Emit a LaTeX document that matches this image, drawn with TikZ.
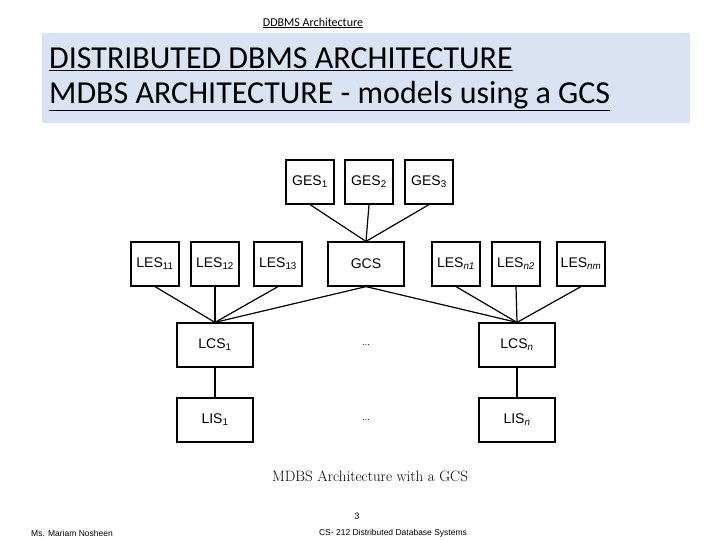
\documentclass[tikz,border=0pt]{standalone}
\usepackage{fontspec}
\setmainfont{Carlito}
\newfontfamily\boxfont{Liberation Sans}
\newfontfamily\capfont{Latin Modern Roman}
\newcommand{\sbs}[1]{\textsubscript{#1}}
\begin{document}
\begin{tikzpicture}[x=1pt,y=-1pt,
  sbox/.style={draw,line width=1.2pt,minimum width=48pt,minimum height=44pt,
    font=\boxfont\fontsize{14}{16}\selectfont,inner sep=0pt},
  wbox/.style={sbox,minimum width=76pt},
  link/.style={line width=1.2pt}]
\useasboundingbox (0,0) rectangle (720,540);
\node[font=\fontsize{12}{14}\selectfont] (hdr) at (313,23) {\underline{DDBMS Architecture}};
\fill[fill={rgb,255:red,218;green,227;blue,243}] (42,33) rectangle (690,123);
\node[anchor=west,font=\fontsize{32}{35}\selectfont,align=left,inner sep=0pt] (ttl) at (49,79)
  {\underline{DISTRIBUTED DBMS ARCHITECTURE}\\\underline{MDBS ARCHITECTURE - models using a GCS}};
% global level
\node[sbox] (ges1) at (310,182) {GES\sbs{1}};
\node[sbox] (ges2) at (369,182) {GES\sbs{2}};
\node[sbox] (ges3) at (429,182) {GES\sbs{3}};
% local external schemas and GCS
\node[sbox] (les11) at (155,264) {LES\sbs{11}};
\node[sbox] (les12) at (215,264) {LES\sbs{12}};
\node[sbox] (les13) at (278,264) {LES\sbs{13}};
\node[wbox] (gcs) at (366,264) {GCS};
\node[sbox] (lesn1) at (456,264) {LES\sbs{\itshape n1}};
\node[sbox] (lesn2) at (516,264) {LES\sbs{\itshape n2}};
\node[sbox] (lesnm) at (581,264) {LES\sbs{\itshape nm}};
% local conceptual and internal
\node[wbox] (lcs1) at (215,345) {LCS\sbs{1}};
\node[wbox] (lcsn) at (517,345) {LCS\sbs{\itshape n}};
\node[wbox] (lis1) at (215,420) {LIS\sbs{1}};
\node[wbox] (lisn) at (517,420) {LIS\sbs{\itshape n}};
\node (dots1) at (366,345) {\boxfont\small ...};
\node (dots2) at (366,420) {\boxfont\small ...};
\foreach \g in {ges1,ges2,ges3} \draw[link] (\g.south) -- (gcs.north);
\foreach \l in {les11,les12,les13} \draw[link] (\l.south) -- (lcs1.north);
\foreach \l in {lesn1,lesn2,lesnm} \draw[link] (\l.south) -- (lcsn.north);
\draw[link] (gcs.south) -- (lcs1.north);
\draw[link] (gcs.south) -- (lcsn.north);
\draw[link] (lcs1) -- (lis1);
\draw[link] (lcsn) -- (lisn);
\node[font=\capfont\fontsize{15}{18}\selectfont] (cap) at (370,476) {MDBS Architecture with a GCS};
\node[font=\fontsize{10}{12}\selectfont] (pg) at (357,516) {3};
\node[font=\boxfont\fontsize{8.5}{10}\selectfont] (auth) at (72,533) {Ms. Mariam Nosheen};
\node[font=\boxfont\fontsize{8.5}{10}\selectfont] (crs) at (393,533) {CS- 212 Distributed Database Systems};
\end{tikzpicture}
\end{document}
